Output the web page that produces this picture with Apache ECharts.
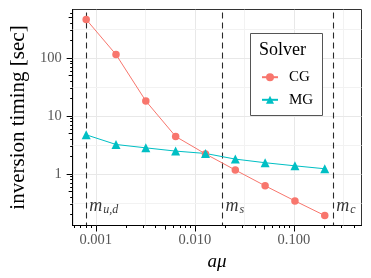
<!DOCTYPE html>
<html><head><meta charset="utf-8">
<script src="https://cdn.jsdelivr.net/npm/echarts/dist/echarts.min.js"></script>
<style>html,body{margin:0;padding:0;background:#fff}#c{width:371px;height:278px}</style>
</head><body><div id="c"></div>
<script>
// ---- data ----
const amu = [0.0008, 0.0016, 0.0032, 0.0064, 0.0128, 0.0256, 0.0512, 0.1024, 0.2048];
const cgTime = [460, 114, 18, 4.4, 2.2, 1.16, 0.62, 0.34, 0.19];
const mgTime = [4.7, 3.2, 2.8, 2.46, 2.24, 1.79, 1.55, 1.37, 1.22];
const massLines = [0.0008, 0.019, 0.25];
const massLabels = ['{m|m}{s|u,d}', '{m|m}{s|s}', '{m|m}{s|c}'];
const massLabelY = 0.27;
const xTickLabels = [0.001, 0.01, 0.1];
const yTickLabels = [1, 10, 100];
const xRange = [0.000584, 0.481];
const yRange = [0.128, 683];

const SERIF = "'Liberation Serif','DejaVu Serif',serif";
const chart = echarts.init(document.getElementById('c'), null, {renderer: 'canvas'});

function near(v, arr) { return arr.find(t => Math.abs(v / t - 1) < 1e-6); }

// log ticks (annotation_logticks style) and grid lines
const tickData = [];
for (let e = -5; e <= 3; e++) for (let k = 1; k <= 9; k++) {
  const v = k * Math.pow(10, e);
  const len = k === 1 ? 6 : (k === 5 ? 4 : 2.5);
  if (v >= xRange[0] && v <= xRange[1]) tickData.push([v, 1, len, 0]);
  if (v >= yRange[0] && v <= yRange[1]) tickData.push([0.01, v, len, 1]);
}
const gridData = [];
for (let e = -5; e <= 3; e++) {
  const maj = Math.pow(10, e), mnr = Math.pow(10, e + 0.5);
  if (maj > xRange[0] && maj < xRange[1]) gridData.push([maj, 1, 0, 0]);
  if (mnr > xRange[0] && mnr < xRange[1]) gridData.push([mnr, 1, 1, 0]);
  if (maj > yRange[0] && maj < yRange[1]) gridData.push([0.01, maj, 0, 1]);
  if (mnr > yRange[0] && mnr < yRange[1]) gridData.push([0.01, mnr, 1, 1]);
}

const option = {
  animation: false,
  backgroundColor: '#fff',
  grid: {left: 62, right: 9.5, top: 9.5, bottom: 52.5, show: true, borderColor: '#333', borderWidth: 1, backgroundColor: '#fff'},
  xAxis: {
    type: 'log', logBase: 10, min: xRange[0], max: xRange[1],
    name: 'aμ', nameLocation: 'middle', nameGap: 21,
    nameTextStyle: {fontFamily: SERIF, fontStyle: 'italic', fontSize: 19, color: '#000'},
    axisLine: {show: true, lineStyle: {color: '#000', width: 1}},
    axisTick: {show: false}, splitLine: {show: false}, minorTick: {show: false},
    axisLabel: {fontFamily: SERIF, fontSize: 14.5, color: '#555', margin: 7,
      formatter: v => { const t = near(v, xTickLabels); return t ? t.toFixed(3) : ''; }}
  },
  yAxis: {
    type: 'log', logBase: 10, min: yRange[0], max: yRange[1],
    name: 'inversion timing [sec]', nameLocation: 'middle', nameGap: 34,
    nameTextStyle: {fontFamily: SERIF, fontSize: 21, color: '#000'},
    axisLine: {show: true, lineStyle: {color: '#000', width: 1}},
    axisTick: {show: false}, splitLine: {show: false}, minorTick: {show: false},
    axisLabel: {fontFamily: SERIF, fontSize: 14.5, color: '#555', margin: 11,
      formatter: v => { const t = near(v, yTickLabels); return t ? String(t) : ''; }}
  },
  legend: {
    orient: 'vertical', left: 261, top: 69.7, padding: 0, itemWidth: 16, itemHeight: 10, itemGap: 7.6, z: 20,
    textStyle: {fontFamily: SERIF, fontSize: 15, lineHeight: 14, color: '#000', padding: [0, 0, 0, 6]},
    data: ['CG', 'MG']
  },
  graphic: [
    {type: 'rect', z: 15, shape: {x: 250.5, y: 33.5, width: 72, height: 82},
     style: {fill: '#fff', stroke: '#555', lineWidth: 1}},
    {type: 'text', z: 16, x: 259, y: 50,
     style: {text: 'Solver', font: "18px " + SERIF, fill: '#000', verticalAlign: 'middle'}}
  ],
  series: [
    {
      type: 'custom', name: 'grid', silent: true, z: 1, clip: true,
      data: gridData,
      renderItem: (params, api) => {
        const cs = params.coordSys;
        const minor = api.value(2) === 1;
        const style = {stroke: minor ? '#f2f2f2' : '#e8e8e8', lineWidth: 1};
        if (api.value(3) === 0) {
          const x = Math.round(api.coord([api.value(0), 1])[0]) + 0.5;
          return {type: 'line', shape: {x1: x, y1: cs.y, x2: x, y2: cs.y + cs.height}, style};
        }
        const y = Math.round(api.coord([0.01, api.value(1)])[1]) + 0.5;
        return {type: 'line', shape: {x1: cs.x, y1: y, x2: cs.x + cs.width, y2: y}, style};
      }
    },
    {
      type: 'custom', name: 'vlines', silent: true, z: 2, clip: true,
      data: massLines.map(v => [v, 1]),
      renderItem: (params, api) => {
        const cs = params.coordSys;
        const x = Math.round(api.coord([api.value(0), 1])[0]) + 0.5;
        return {type: 'line', shape: {x1: x, y1: cs.y + 3, x2: x, y2: cs.y + cs.height},
          style: {stroke: '#2a2a2a', lineWidth: 1.1, lineDash: [6, 4]}};
      }
    },
    {
      type: 'custom', name: 'ticks', silent: true, z: 5, clip: false,
      data: tickData,
      renderItem: (params, api) => {
        const cs = params.coordSys;
        const len = api.value(2);
        const style = {stroke: '#000', lineWidth: 1};
        if (api.value(3) === 0) {
          const x = Math.round(api.coord([api.value(0), 1])[0]) + 0.5;
          const y0 = cs.y + cs.height;
          return {type: 'line', shape: {x1: x, y1: y0, x2: x, y2: y0 + len}, style};
        }
        const y = Math.round(api.coord([0.01, api.value(1)])[1]) + 0.5;
        return {type: 'line', shape: {x1: cs.x, y1: y, x2: cs.x - len, y2: y}, style};
      }
    },
    {
      type: 'line', name: 'CG', data: amu.map((x, i) => [x, cgTime[i]]), z: 3,
      symbol: 'circle', symbolSize: 7.5, showAllSymbol: true,
      itemStyle: {color: '#F8766D'}, lineStyle: {color: '#F8766D', width: 1}
    },
    {
      type: 'line', name: 'MG', data: amu.map((x, i) => [x, mgTime[i]]), z: 3,
      symbol: 'triangle', symbolSize: 9, showAllSymbol: true,
      itemStyle: {color: '#00BFC4'}, lineStyle: {color: '#00BFC4', width: 1}
    },
    {
      type: 'scatter', name: 'masslabels', silent: true, symbolSize: 0, z: 4,
      data: massLines.map((v, i) => ({value: [v, massLabelY], label: {formatter: massLabels[i]}})),
      label: {
        show: true, position: 'right', distance: 3,
        rich: {
          m: {fontFamily: SERIF, fontStyle: 'italic', fontSize: 18, color: '#000', verticalAlign: 'top', lineHeight: 18},
          s: {fontFamily: SERIF, fontStyle: 'italic', fontSize: 12, color: '#000', verticalAlign: 'bottom', lineHeight: 12, padding: [8, 0, 0, 1]}
        }
      }
    }
  ]
};
chart.setOption(option);
</script></body></html>
